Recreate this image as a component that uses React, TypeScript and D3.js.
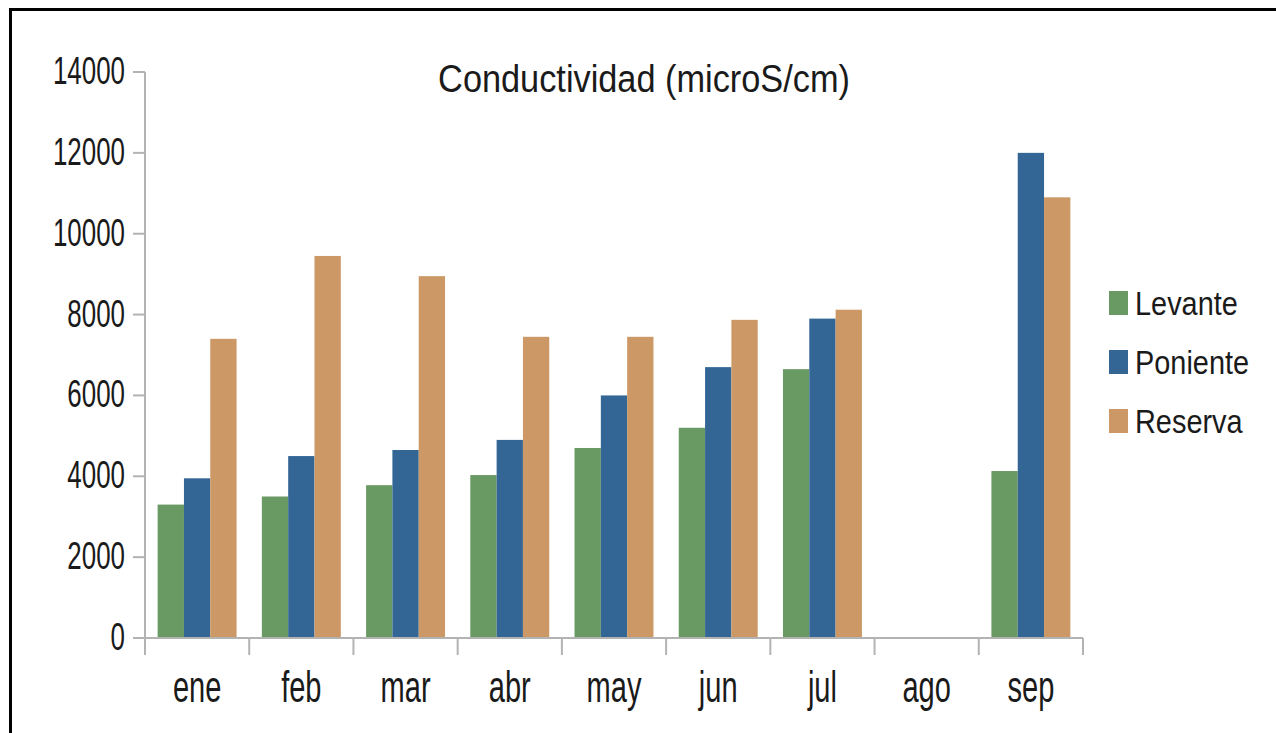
import React, { useRef, useEffect } from 'react';
import * as d3 from 'd3';

// months on the x axis
const months = ['ene', 'feb', 'mar', 'abr', 'may', 'jun', 'jul', 'ago', 'sep'];
const seriesNames = ['Levante', 'Poniente', 'Reserva'];

// values (ago has no data)
const levante = [3300, 3500, 3780, 4030, 4700, 5200, 6650, null, 4130];
const poniente = [3950, 4500, 4650, 4900, 6000, 6700, 7900, null, 12000];
const reserva = [7400, 9450, 8950, 7450, 7450, 7870, 8120, null, 10900];

const yTicks = [0, 2000, 4000, 6000, 8000, 10000, 12000, 14000];

const colors = ['#699a63', '#336695', '#cc9966'];

const W = 1276;
const H = 733;
const FONT = '"Liberation Sans", Arial, sans-serif';

const App = () => {
  const ref = useRef<SVGSVGElement>(null);

  useEffect(() => {
    const svg = d3.select(ref.current);
    svg.selectAll('*').remove();

    const plot = { left: 145, right: 1083, top: 72, bottom: 638 };

    const x = d3.scaleBand().domain(months).range([plot.left, plot.right]);
    const xSub = d3.scaleBand()
      .domain(seriesNames)
      .range([0, x.bandwidth()])
      .paddingOuter(0.48);
    const y = d3.scaleLinear().domain([0, 14000]).range([plot.bottom, plot.top]);

    // frame (left and top edges only)
    svg.append('path')
      .attr('d', `M10.5,${H} L10.5,9.5 L${W},9.5`)
      .attr('fill', 'none')
      .attr('stroke', '#000')
      .attr('stroke-width', 3);

    // title
    svg.append('text')
      .attr('transform', `translate(644,92) scale(0.88,1)`)
      .attr('text-anchor', 'middle')
      .attr('font-family', FONT)
      .attr('font-size', 39)
      .attr('fill', '#1a1a1a')
      .text('Conductividad (microS/cm)');

    // bars
    const allSeries = [levante, poniente, reserva];
    allSeries.forEach((vals, si) => {
      const name = seriesNames[si];
      svg.append('g')
        .selectAll('rect')
        .data(months.map((m, i) => ({ m, v: vals[i] })).filter(d => d.v != null))
        .enter()
        .append('rect')
        .attr('x', d => (x(d.m) as number) + (xSub(name) as number))
        .attr('y', d => y(d.v as number))
        .attr('width', xSub.bandwidth())
        .attr('height', d => y(0) - y(d.v as number))
        .attr('fill', colors[si]);
    });

    const axisColor = '#b3b3b3';

    // y axis
    svg.append('line')
      .attr('x1', plot.left).attr('x2', plot.left)
      .attr('y1', y(14000)).attr('y2', plot.bottom + 17)
      .attr('stroke', axisColor).attr('stroke-width', 2);

    yTicks.forEach(t => {
      svg.append('line')
        .attr('x1', plot.left - 12).attr('x2', plot.left)
        .attr('y1', y(t)).attr('y2', y(t))
        .attr('stroke', axisColor).attr('stroke-width', 2);
      svg.append('text')
        .attr('transform', `translate(125,${y(t) + 12}) scale(0.665,1)`)
        .attr('text-anchor', 'end')
        .attr('font-family', FONT)
        .attr('font-size', 39)
        .attr('fill', '#1a1a1a')
        .text(String(t));
    });

    // x axis
    svg.append('line')
      .attr('x1', plot.left - 12).attr('x2', plot.right)
      .attr('y1', plot.bottom).attr('y2', plot.bottom)
      .attr('stroke', axisColor).attr('stroke-width', 2);

    months.forEach((m, i) => {
      const x0 = x(m) as number;
      svg.append('line')
        .attr('x1', x0 + x.bandwidth()).attr('x2', x0 + x.bandwidth())
        .attr('y1', plot.bottom).attr('y2', plot.bottom + 17)
        .attr('stroke', axisColor).attr('stroke-width', 2);
      svg.append('text')
        .attr('transform', `translate(${x0 + x.bandwidth() / 2},702) scale(0.66,1)`)
        .attr('text-anchor', 'middle')
        .attr('font-family', FONT)
        .attr('font-size', 44)
        .attr('fill', '#1a1a1a')
        .text(m);
    });

    // legend
    const legend = svg.append('g').attr('transform', 'translate(1109,315)');
    seriesNames.forEach((name, i) => {
      const g = legend.append('g').attr('transform', `translate(0,${i * 59})`);
      g.append('rect')
        .attr('x', 0).attr('y', -24)
        .attr('width', 19).attr('height', 24)
        .attr('fill', colors[i]);
      g.append('text')
        .attr('transform', 'translate(26,0) scale(0.85,1)')
        .attr('font-family', FONT)
        .attr('font-size', 34)
        .attr('fill', '#1a1a1a')
        .text(name);
    });
  }, []);

  return (
    <div style={{ position: 'absolute', left: 0, top: 0 }}>
      <svg ref={ref} width={W} height={H} style={{ display: 'block', background: '#fff' }} />
    </div>
  );
};

export default App;
